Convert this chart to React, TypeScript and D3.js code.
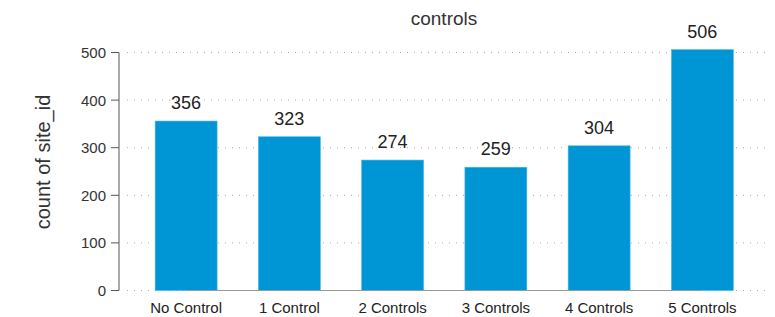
import * as d3 from "d3";

const categories = ["No Control", "1 Control", "2 Controls", "3 Controls", "4 Controls", "5 Controls"];
const counts = [356, 323, 274, 259, 304, 506];
const yTicks = [0, 100, 200, 300, 400, 500];

const W = 775;
const H = 317;
const axisX = 119;
const yScale = d3.scaleLinear().domain([0, 500]).range([290.5, 52.5]);
const xScale = d3.scaleBand<string>().domain(categories).range([134.5, 754]).paddingInner(0.4).paddingOuter(0.2);

export default function App() {
  const font = "Arial, 'Liberation Sans', sans-serif";
  const first = xScale(categories[0])! + xScale.bandwidth() / 2;
  const last = xScale(categories[categories.length - 1])! + xScale.bandwidth() / 2;
  return (
    <svg width={W} height={H} style={{ position: "absolute", left: 0, top: 0 }} fontFamily={font}>
      <text x={444} y={25} textAnchor="middle" fontSize={19} fill="#333">controls</text>
      <text transform={`translate(50,162) rotate(-90)`} textAnchor="middle" fontSize={20} fill="#333">count of site_id</text>
      {yTicks.map((t) => (
        <g key={t}>
          <line x1={127} x2={766} y1={yScale(t)} y2={yScale(t)} stroke="#aaa" strokeWidth={1} strokeDasharray="1,6" />
          <line x1={111} x2={axisX} y1={yScale(t)} y2={yScale(t)} stroke="#555" strokeWidth={1} />
          <text x={106} y={yScale(t)} dy="0.36em" textAnchor="end" fontSize={15} fill="#333">{t}</text>
        </g>
      ))}
      <line x1={axisX} x2={axisX} y1={yScale(500)} y2={yScale(0)} stroke="#555" strokeWidth={1} />
      {categories.map((c, i) => (
        <g key={c}>
          <rect x={xScale(c)} y={yScale(counts[i])} width={xScale.bandwidth()} height={yScale(0) - yScale(counts[i])} fill="#0096d6" stroke="#4cb5e6" strokeWidth={0.6} />
          <text x={xScale(c)! + xScale.bandwidth() / 2} y={yScale(counts[i]) - 12} textAnchor="middle" fontSize={18} fill="#222">{counts[i]}</text>
          <text x={xScale(c)! + xScale.bandwidth() / 2} y={313} textAnchor="middle" fontSize={15} fill="#222">{c}</text>
        </g>
      ))}
      <line x1={first} x2={last} y1={yScale(0)} y2={yScale(0)} stroke="#999" strokeWidth={1.2} />
    </svg>
  );
}
